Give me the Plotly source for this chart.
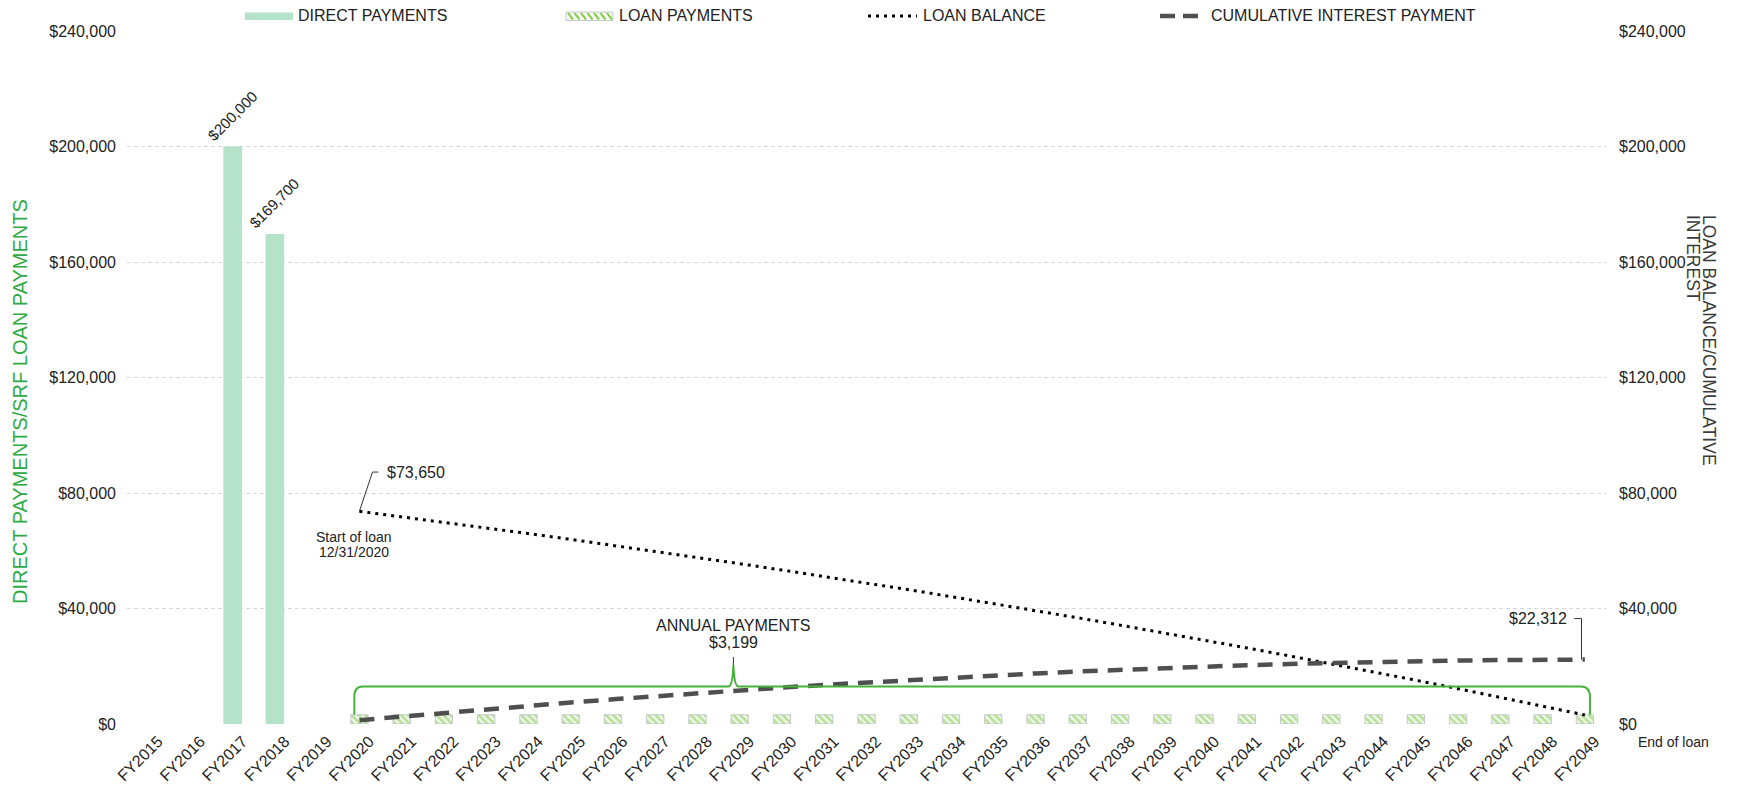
import plotly.graph_objects as go

# ---- data -------------------------------------------------------------
fiscal_years = [
    "FY2015", "FY2016", "FY2017", "FY2018", "FY2019", "FY2020", "FY2021",
    "FY2022", "FY2023", "FY2024", "FY2025", "FY2026", "FY2027", "FY2028",
    "FY2029", "FY2030", "FY2031", "FY2032", "FY2033", "FY2034", "FY2035",
    "FY2036", "FY2037", "FY2038", "FY2039", "FY2040", "FY2041", "FY2042",
    "FY2043", "FY2044", "FY2045", "FY2046", "FY2047", "FY2048", "FY2049",
]

direct_years = ["FY2017", "FY2018"]
direct_payments = [200000, 169700]

loan_years = [
    "FY2020", "FY2021", "FY2022", "FY2023", "FY2024", "FY2025", "FY2026",
    "FY2027", "FY2028", "FY2029", "FY2030", "FY2031", "FY2032", "FY2033",
    "FY2034", "FY2035", "FY2036", "FY2037", "FY2038", "FY2039", "FY2040",
    "FY2041", "FY2042", "FY2043", "FY2044", "FY2045", "FY2046", "FY2047",
    "FY2048", "FY2049",
]
loan_payments = [
    3199, 3199, 3199, 3199, 3199, 3199, 3199, 3199, 3199, 3199,
    3199, 3199, 3199, 3199, 3199, 3199, 3199, 3199, 3199, 3199,
    3199, 3199, 3199, 3199, 3199, 3199, 3199, 3199, 3199, 3199,
]
loan_balance = [
    73650, 71780, 69870, 67930, 65950, 63940, 61890, 59810, 57680, 55520,
    53320, 51090, 48810, 46490, 44120, 41720, 39270, 36780, 34240, 31660,
    29030, 26350, 23630, 20850, 18030, 15160, 12230, 9250, 6220, 3130,
]
cumulative_interest = [
    1330, 2620, 3880, 5100, 6290, 7440, 8550, 9630, 10670, 11670,
    12630, 13550, 14420, 15260, 16060, 16810, 17510, 18170, 18790, 19360,
    19880, 20360, 20780, 21160, 21480, 21750, 21970, 22140, 22250, 22312,
]

y_ticks = [0, 40000, 80000, 120000, 160000, 200000, 240000]
y_tick_labels = ["$0", "$40,000", "$80,000", "$120,000", "$160,000",
                 "$200,000", "$240,000"]

# ---- page geometry ----------------------------------------------------
FONT = "Liberation Sans, Arial, sans-serif"
TEXT = "#222222"
W, H = 1754, 786
ML, MR, MT, MB = 127, 148, 31, 62
PW, PH = W - ML - MR, H - MT - MB


def px_x(px):
    return (px - ML) / PW


def px_y(py):
    return (H - MB - py) / PH


idx = {fy: i for i, fy in enumerate(fiscal_years)}

fig = go.Figure()

fig.add_trace(go.Bar(
    x=direct_years, y=direct_payments, name="DIRECT PAYMENTS",
    width=0.44, marker=dict(color="#b4e3c9", line=dict(width=0)),
    showlegend=False, hoverinfo="x+y",
))
fig.add_trace(go.Bar(
    x=loan_years, y=loan_payments, name="LOAN PAYMENTS",
    width=0.41,
    marker=dict(
        color="white",
        line=dict(color="#c4c9ce", width=1),
        pattern=dict(shape="\\", fgcolor="#7cc943", bgcolor="#f4f8ef",
                     size=5, solidity=0.55),
    ),
    showlegend=False, hoverinfo="x+y",
))
fig.add_trace(go.Scatter(
    x=loan_years, y=loan_balance, name="LOAN BALANCE", yaxis="y2",
    mode="lines", line=dict(color="black", width=3, dash="3px,5px"),
    showlegend=False,
))
fig.add_trace(go.Scatter(
    x=loan_years, y=cumulative_interest, name="CUMULATIVE INTEREST PAYMENT",
    yaxis="y2", mode="lines",
    line=dict(color="#4f4f4f", width=4.5, dash="15px,10px"),
    showlegend=False,
))

shapes = []
annotations = []

# value labels on the direct-payment bars
for yr, v in zip(direct_years, direct_payments):
    annotations.append(dict(
        x=yr, y=v, xref="x", yref="y", text=f"${v:,}", showarrow=False,
        textangle=-45, xanchor="center", yanchor="bottom", yshift=0,
        font=dict(family=FONT, size=15, color=TEXT),
    ))

# start of loan callout
i0 = idx[loan_years[0]]
b0 = loan_balance[0]
rise = 13600
shapes.append(dict(
    type="path", xref="x", yref="y",
    path=f"M{i0},{b0} L{i0 + 0.31},{b0 + rise} L{i0 + 0.45},{b0 + rise}",
    line=dict(color="#333333", width=1),
))
annotations.append(dict(
    x=i0 + 0.6, y=b0 + rise, xref="x", yref="y", text=f"${b0:,}",
    showarrow=False, xanchor="left", yanchor="middle",
    font=dict(family=FONT, size=16, color=TEXT),
))
for line_text, py in (("Start of loan", 536.7), ("12/31/2020", 551.7)):
    annotations.append(dict(
        x=i0 - 0.13, y=px_y(py), xref="x", yref="paper", text=line_text,
        showarrow=False, xanchor="center", yanchor="middle",
        font=dict(family=FONT, size=14, color=TEXT),
    ))

# brace over the annual loan payments
iN = idx[loan_years[-1]]
pay = loan_payments[0]
brace_level = 13000
brace_peak = 20400
spk = idx["FY2029"] - 0.15
left, right = i0 - 0.12, iN + 0.12
brace_path = (
    f"M{left},{pay} L{left},{brace_level - 3500} "
    f"Q{left},{brace_level} {left + 0.2},{brace_level} "
    f"L{spk - 0.12},{brace_level} "
    f"Q{spk - 0.02},{brace_level} {spk},{brace_peak} "
    f"Q{spk + 0.02},{brace_level} {spk + 0.12},{brace_level} "
    f"L{right - 0.22},{brace_level} "
    f"Q{right},{brace_level} {right},{brace_level - 3500} "
    f"L{right},{pay}"
)
shapes.append(dict(type="path", xref="x", yref="y", path=brace_path,
                   line=dict(color="#45b33a", width=2)))
shapes.append(dict(type="line", xref="x", yref="y",
                   x0=spk, x1=spk, y0=brace_peak, y1=brace_peak + 2800,
                   line=dict(color="#333333", width=1)))
annotations.append(dict(
    x=spk, y=px_y(625), xref="x", yref="paper", text="ANNUAL PAYMENTS",
    showarrow=False, xanchor="center", yanchor="middle",
    font=dict(family=FONT, size=16, color=TEXT),
))
annotations.append(dict(
    x=spk, y=px_y(642.7), xref="x", yref="paper", text=f"${pay:,}",
    showarrow=False, xanchor="center", yanchor="middle",
    font=dict(family=FONT, size=16, color=TEXT),
))

# total interest callout
cN = cumulative_interest[-1]
up = 14200
shapes.append(dict(
    type="path", xref="x", yref="y",
    path=f"M{iN - 0.08},{cN} L{iN - 0.08},{cN + up} L{iN - 0.25},{cN + up}",
    line=dict(color="#333333", width=1),
))
annotations.append(dict(
    x=iN - 0.38, y=cN + up, xref="x", yref="y", text=f"${cN:,}",
    showarrow=False, xanchor="right", yanchor="middle",
    font=dict(family=FONT, size=16, color=TEXT),
))
annotations.append(dict(
    x=px_x(1636), y=px_y(741.7), xref="paper", yref="paper",
    text="End of loan", showarrow=False, xanchor="left", yanchor="middle",
    font=dict(family=FONT, size=14, color=TEXT),
))

# axis titles
annotations.append(dict(
    x=px_x(20), y=px_y(402), xref="paper", yref="paper",
    text="DIRECT PAYMENTS/SRF LOAN PAYMENTS", textangle=-90,
    showarrow=False, xanchor="center", yanchor="middle",
    font=dict(family=FONT, size=20, color="#2eaa44"),
))
for line_text, px in (("LOAN BALANCE/CUMULATIVE", 1709), ("INTEREST", 1693)):
    annotations.append(dict(
        x=px_x(px), y=px_y(212.5), xref="paper", yref="paper",
        text=line_text, textangle=90, showarrow=False,
        xanchor="center", yanchor="top",
        font=dict(family=FONT, size=17.5, color="#3a3a3a"),
    ))

# legend row
LEG_Y = 16
legend_font = dict(family=FONT, size=16, color=TEXT)
shapes.append(dict(type="rect", xref="paper", yref="paper",
                   x0=px_x(245), x1=px_x(293), y0=px_y(20), y1=px_y(12.5),
                   fillcolor="#b4e3c9", line=dict(width=0)))
annotations.append(dict(x=px_x(296), y=px_y(LEG_Y), xref="paper",
                        yref="paper", text="DIRECT PAYMENTS", showarrow=False,
                        xanchor="left", yanchor="middle", font=legend_font))

shapes.append(dict(type="rect", xref="paper", yref="paper",
                   x0=px_x(566), x1=px_x(613), y0=px_y(20.5), y1=px_y(12),
                   fillcolor="#f4f8ef", line=dict(color="#c4c9ce", width=1)))
for k in range(7):
    sx = 568 + k * 6.5
    shapes.append(dict(type="line", xref="paper", yref="paper",
                       x0=px_x(sx), x1=px_x(sx + 5), y0=px_y(13), y1=px_y(19.5),
                       line=dict(color="#7cc943", width=2)))
annotations.append(dict(x=px_x(617), y=px_y(LEG_Y), xref="paper",
                        yref="paper", text="LOAN PAYMENTS", showarrow=False,
                        xanchor="left", yanchor="middle", font=legend_font))

shapes.append(dict(type="line", xref="paper", yref="paper",
                   x0=px_x(868), x1=px_x(917), y0=px_y(LEG_Y), y1=px_y(LEG_Y),
                   line=dict(color="black", width=3, dash="3px,5px")))
annotations.append(dict(x=px_x(921), y=px_y(LEG_Y), xref="paper",
                        yref="paper", text="LOAN BALANCE", showarrow=False,
                        xanchor="left", yanchor="middle", font=legend_font))

shapes.append(dict(type="line", xref="paper", yref="paper",
                   x0=px_x(1160), x1=px_x(1198), y0=px_y(LEG_Y), y1=px_y(LEG_Y),
                   line=dict(color="#4f4f4f", width=4.5, dash="15px,8px")))
annotations.append(dict(x=px_x(1209), y=px_y(LEG_Y), xref="paper",
                        yref="paper", text="CUMULATIVE INTEREST PAYMENT",
                        showarrow=False, xanchor="left", yanchor="middle",
                        font=legend_font))

axis_common = dict(
    range=[0, 240000], tickmode="array", tickvals=y_ticks,
    ticktext=y_tick_labels, zeroline=False, showline=False,
    ticks="", automargin=False,
    tickfont=dict(family=FONT, size=16, color=TEXT),
)

fig.update_layout(
    width=W, height=H,
    margin=dict(l=ML, r=MR, t=MT, b=MB, autoexpand=False),
    paper_bgcolor="white", plot_bgcolor="white",
    barmode="overlay", showlegend=False,
    font=dict(family=FONT, color=TEXT),
    xaxis=dict(
        type="category", categoryorder="array", categoryarray=fiscal_years,
        range=[-0.5, len(fiscal_years) - 0.5], tickangle=-45,
        tickfont=dict(family=FONT, size=16, color=TEXT),
        ticklabelshift=10, ticklabelstandoff=4,
        showgrid=False, zeroline=False, showline=False, ticks="",
        automargin=False,
    ),
    yaxis=dict(
        **axis_common, showgrid=True, gridcolor="#d5d9de", gridwidth=1,
        griddash="4px,3px", ticklabelstandoff=10,
    ),
    yaxis2=dict(
        **axis_common, overlaying="y", side="right", showgrid=False,
        ticklabelstandoff=12,
    ),
    shapes=shapes,
    annotations=annotations,
)

fig.write_html("out.html")
